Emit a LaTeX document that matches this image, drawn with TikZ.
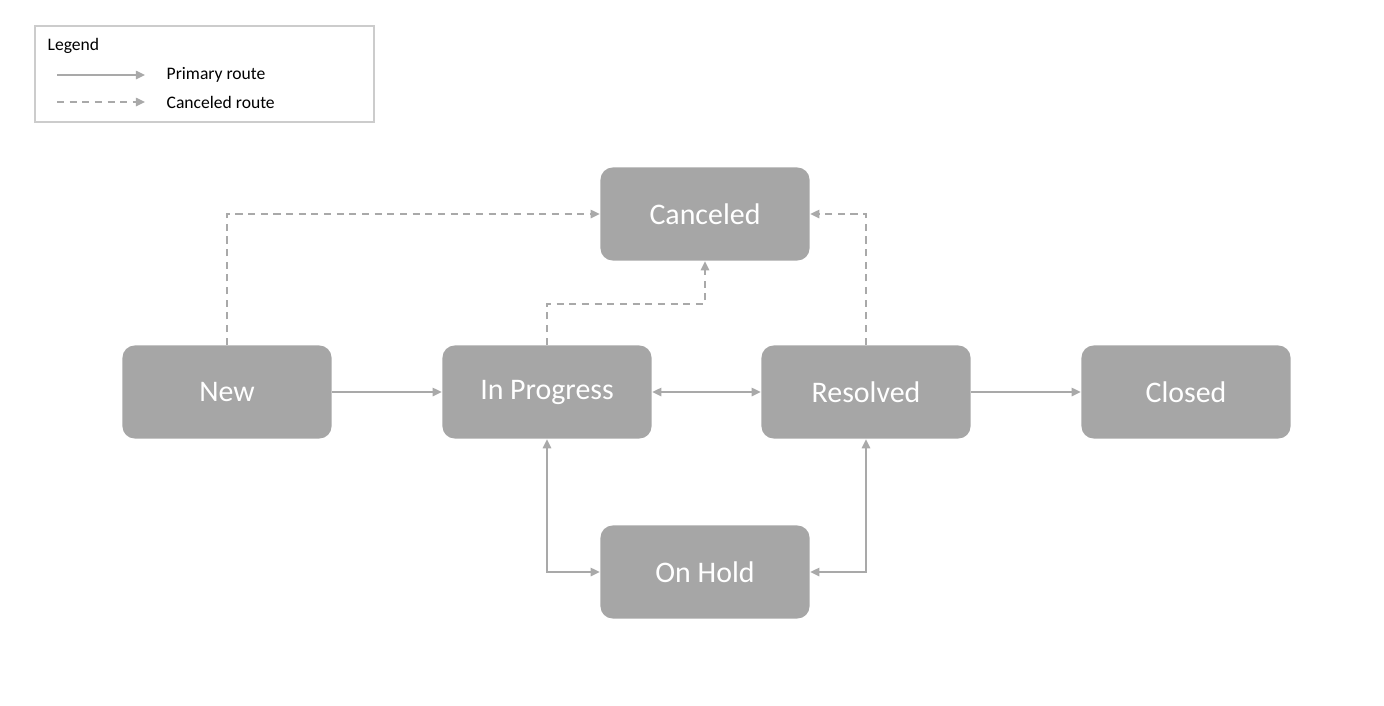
\documentclass[tikz,border=0pt]{standalone}
\usepackage{fontspec}
\setmainfont{Carlito}
\usetikzlibrary{arrows.meta}
\definecolor{boxg}{HTML}{A6A6A6}
\definecolor{lineg}{HTML}{A9A9A9}
\begin{document}
\begin{tikzpicture}[x=0.01cm,y=-0.01cm,
  state/.style={draw=none,fill=boxg,rounded corners=3.5pt,minimum width=2.09cm,minimum height=0.93cm,text=white,font=\fontsize{8.5}{10}\selectfont,inner sep=0pt},
  conn/.style={draw=lineg,line width=0.45pt,-{Triangle[length=2.6pt,width=2.4pt]}},
  both/.style={conn,{Triangle[length=2.6pt,width=2.4pt]}-{Triangle[length=2.6pt,width=2.4pt]}},
  cdash/.style={conn,dash pattern=on 2pt off 1.6pt},
  lbl/.style={font=\fontsize{5}{6}\selectfont,anchor=west,inner sep=0pt}]
\useasboundingbox (0,0) rectangle (1384,705);
\fill[white] (0,0) rectangle (1384,705);
% legend
\draw[draw=black!20,line width=0.5pt] (35,26) rectangle (374,122);
\node[lbl] (lg) at (47,46) {Legend};
\coordinate (l1a) at (57,75); \coordinate (l1b) at (145,75);
\coordinate (l2a) at (57,102); \coordinate (l2b) at (145,102);
\draw[conn] (l1a) -- (l1b);
\draw[cdash] (l2a) -- (l2b);
\node[lbl] (lp) at (166,75) {Primary route};
\node[lbl] (lc) at (166,102) {Canceled route};
% states
\node[state] (can) at (705,214) {Canceled};
\node[state] (new) at (227,392) {New};
\node[state] (inp) at (547,392) {In Progress};
\node[state] (res) at (866,392) {Resolved};
\node[state] (clo) at (1186,392) {Closed};
\node[state] (hold) at (705,572) {On Hold};
% connectors
\draw[conn] (new) -- (inp);
\draw[both] (inp) -- (res);
\draw[conn] (res) -- (clo);
\draw[cdash] (new.north) |- (can.west);
\draw[cdash] (inp.north) -- ++(0,-41) -| (can.south);
\draw[cdash] (res.north) |- (can.east);
\draw[both] (inp.south) |- (hold.west);
\draw[both] (res.south) |- (hold.east);
\end{tikzpicture}
\end{document}
